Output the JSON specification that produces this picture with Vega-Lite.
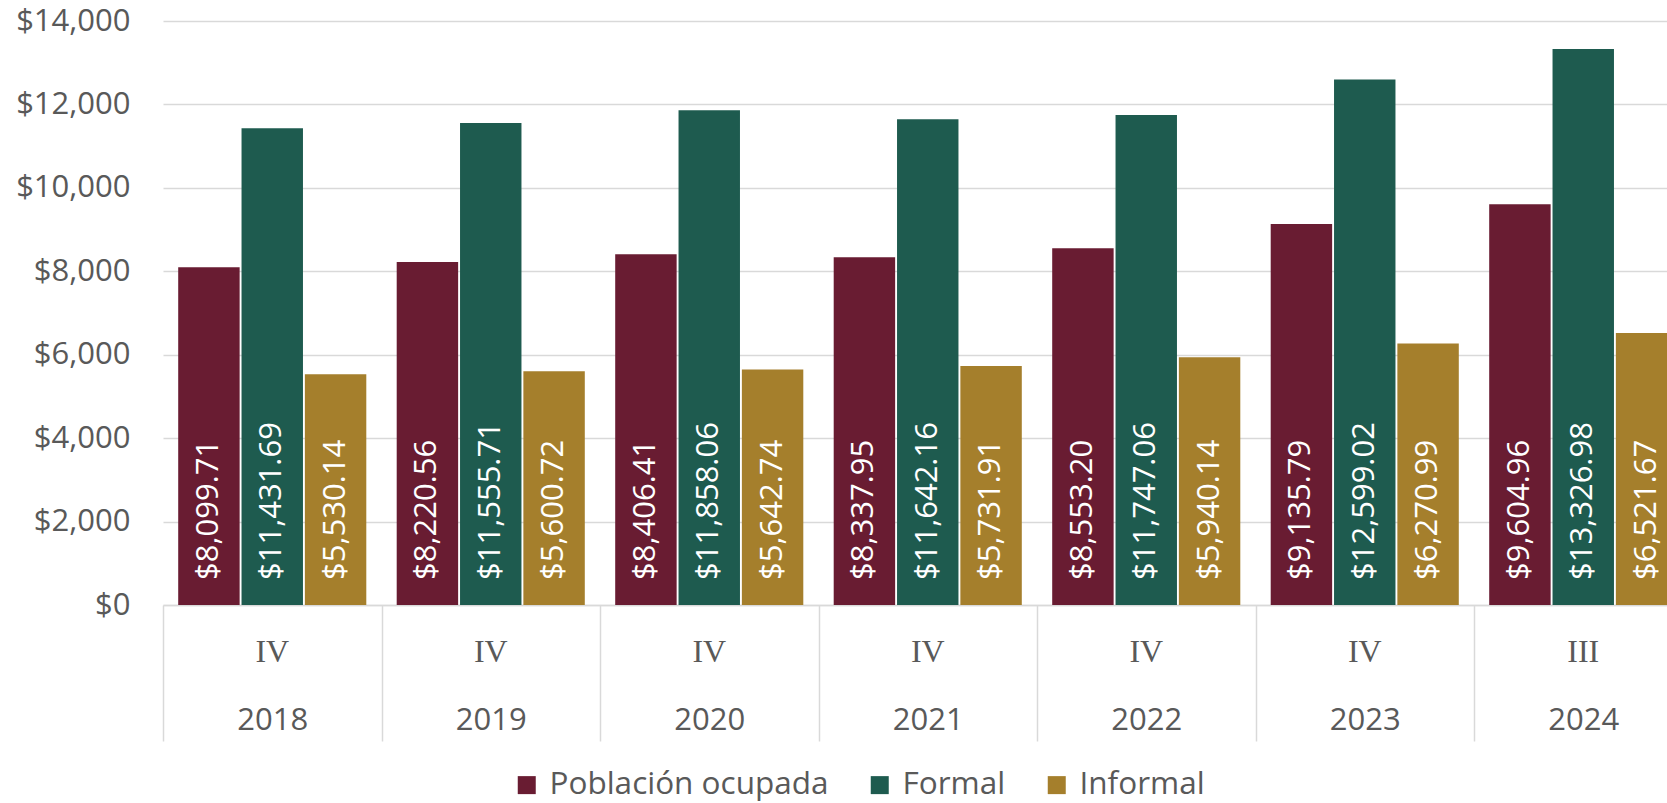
{
  "$schema": "https://vega.github.io/schema/vega-lite/v6.json",
  "autosize": {"type": "none"},
  "padding": {"left": 163, "top": 21, "right": 0, "bottom": 198},
  "width": 1504,
  "height": 584,
  "background": "white",
  "config": {"view": {"stroke": null}},
  "data": {"values": [
    {"year": "2018", "quarter": "IV", "series": "Población ocupada", "value": 8099.71},
    {"year": "2018", "quarter": "IV", "series": "Formal", "value": 11431.69},
    {"year": "2018", "quarter": "IV", "series": "Informal", "value": 5530.14},
    {"year": "2019", "quarter": "IV", "series": "Población ocupada", "value": 8220.56},
    {"year": "2019", "quarter": "IV", "series": "Formal", "value": 11555.71},
    {"year": "2019", "quarter": "IV", "series": "Informal", "value": 5600.72},
    {"year": "2020", "quarter": "IV", "series": "Población ocupada", "value": 8406.41},
    {"year": "2020", "quarter": "IV", "series": "Formal", "value": 11858.06},
    {"year": "2020", "quarter": "IV", "series": "Informal", "value": 5642.74},
    {"year": "2021", "quarter": "IV", "series": "Población ocupada", "value": 8337.95},
    {"year": "2021", "quarter": "IV", "series": "Formal", "value": 11642.16},
    {"year": "2021", "quarter": "IV", "series": "Informal", "value": 5731.91},
    {"year": "2022", "quarter": "IV", "series": "Población ocupada", "value": 8553.20},
    {"year": "2022", "quarter": "IV", "series": "Formal", "value": 11747.06},
    {"year": "2022", "quarter": "IV", "series": "Informal", "value": 5940.14},
    {"year": "2023", "quarter": "IV", "series": "Población ocupada", "value": 9135.79},
    {"year": "2023", "quarter": "IV", "series": "Formal", "value": 12599.02},
    {"year": "2023", "quarter": "IV", "series": "Informal", "value": 6270.99},
    {"year": "2024", "quarter": "III", "series": "Población ocupada", "value": 9604.96},
    {"year": "2024", "quarter": "III", "series": "Formal", "value": 13326.98},
    {"year": "2024", "quarter": "III", "series": "Informal", "value": 6521.67}
  ]},
  "encoding": {
    "x": {
      "field": "year", "type": "nominal",
      "scale": {"paddingInner": 0, "paddingOuter": 0, "range": [0, 1529.5]},
      "axis": {
        "title": null, "labelAngle": 0,
        "domainColor": "#d9d9d9", "domainWidth": 1.5,
        "tickColor": "#d9d9d9", "tickWidth": 1.5, "tickSize": 136, "tickBand": "extent",
        "labelPadding": -21, "labelBaseline": "middle",
        "labelFont": "Open Sans", "labelFontSize": 31, "labelColor": "#595959"
      }
    }
  },
  "layer": [
    {
      "mark": {"type": "bar"},
      "encoding": {
        "xOffset": {"field": "series", "type": "nominal", "sort": ["Población ocupada", "Formal", "Informal"], "scale": {"paddingInner": 0.03, "paddingOuter": 0.24}},
        "y": {
          "field": "value", "type": "quantitative",
          "scale": {"domain": [0, 14000], "nice": false},
          "axis": {
            "title": null, "values": [0, 2000, 4000, 6000, 8000, 10000, 12000, 14000],
            "format": "$,.0f", "grid": true, "gridColor": "#d9d9d9", "gridWidth": 1.5,
            "domain": false, "ticks": false, "labelPadding": 33,
            "labelFont": "Open Sans", "labelFontSize": 31, "labelColor": "#595959"
          }
        },
        "color": {
          "field": "series", "type": "nominal",
          "scale": {"domain": ["Población ocupada", "Formal", "Informal"], "range": ["#691C32", "#1E5B4F", "#A57F2C"]},
          "legend": {
            "title": null, "orient": "none", "legendX": 348, "legendY": 748, "direction": "horizontal",
            "symbolType": "square", "symbolSize": 324, "symbolStrokeWidth": 0,
            "labelFont": "Open Sans", "labelFontSize": 31.5, "labelColor": "#595959", "labelLimit": 0,
            "labelOffset": 7, "columnPadding": 35, "padding": 0
          }
        }
      }
    },
    {
      "mark": {"type": "text", "angle": 270, "align": "left", "baseline": "middle", "dx": 25, "color": "white", "font": "Open Sans", "fontSize": 31},
      "encoding": {
        "xOffset": {"field": "series", "type": "nominal", "sort": ["Población ocupada", "Formal", "Informal"]},
        "y": {"datum": 0, "type": "quantitative"},
        "text": {"field": "value", "type": "quantitative", "format": "$,.2f"}
      }
    },
    {
      "transform": [{"filter": "datum.series === 'Formal'"}],
      "mark": {"type": "text", "dy": 47, "baseline": "middle", "font": "Liberation Serif", "fontSize": 32, "color": "#595959"},
      "encoding": {
        "y": {"datum": 0, "type": "quantitative"},
        "text": {"field": "quarter", "type": "nominal"}
      }
    }
  ]
}
